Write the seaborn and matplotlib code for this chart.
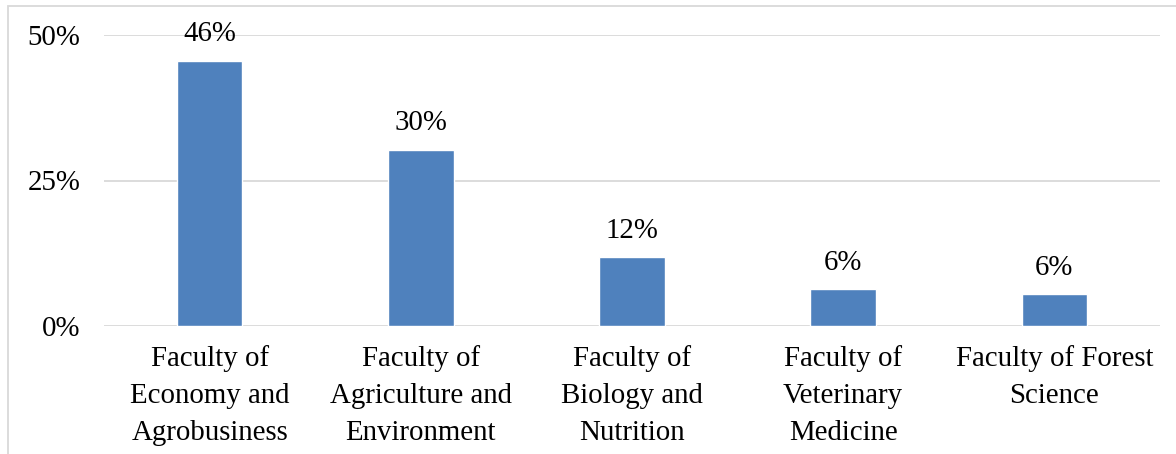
import matplotlib
matplotlib.use("Agg")
import matplotlib.pyplot as plt
import matplotlib.patches as mpatches
from matplotlib.ticker import PercentFormatter
import seaborn as sns
import pandas as pd

# -------------------------
# Data
# -------------------------
faculties = [
    "Faculty of\nEconomy and\nAgrobusiness",
    "Faculty of\nAgriculture and\nEnvironment",
    "Faculty of\nBiology and\nNutrition",
    "Faculty of\nVeterinary\nMedicine",
    "Faculty of Forest\nScience",
]
shares = [0.456, 0.303, 0.118, 0.064, 0.055]
share_labels = ["46%", "30%", "12%", "6%", "6%"]

df = pd.DataFrame({"faculty": faculties, "share": shares})

# -------------------------
# Style
# -------------------------
sns.set_theme(style="white")
plt.rcParams["font.family"] = ["Liberation Serif", "DejaVu Serif"]
plt.rcParams["text.color"] = "black"

FS = 20.8

fig = plt.figure(figsize=(11.76, 4.54), dpi=100)
ax = fig.add_axes([104 / 1176, 1 - 326 / 454, (1160 - 104) / 1176, (326 - 35) / 454])

sns.barplot(data=df, x="faculty", y="share", color="#4F81BD", saturation=1,
            width=0.31, ax=ax)

ax.set_ylim(0, 0.5)
ax.set_yticks([0, 0.25, 0.5])
ax.yaxis.set_major_formatter(PercentFormatter(1.0, decimals=0))
ax.set_xlim(-0.5, len(faculties) - 0.5)
ax.grid(axis="y", color="#d9d9d9", linewidth=1.3)
ax.set_axisbelow(True)
for s in ax.spines.values():
    s.set_visible(False)
ax.set_xlabel("")
ax.set_ylabel("")
ax.tick_params(axis="y", length=0, pad=17, labelsize=FS, colors="black")
ax.tick_params(axis="x", length=0, pad=14, labelsize=FS, colors="black")
for lbl in ax.get_xticklabels():
    lbl.set_linespacing(1.53)

ax.bar_label(ax.containers[0], labels=share_labels, padding=9.5, fontsize=FS,
             color="black")

# outer chart border
border = mpatches.Rectangle((8 / 1176, -0.1), 1.2, 1 - 6 / 454 + 0.1,
                            transform=fig.transFigure, fill=False,
                            edgecolor="#d9d9d9", linewidth=1.3)
fig.patches.append(border)

fig.savefig("out.png", dpi=100)
